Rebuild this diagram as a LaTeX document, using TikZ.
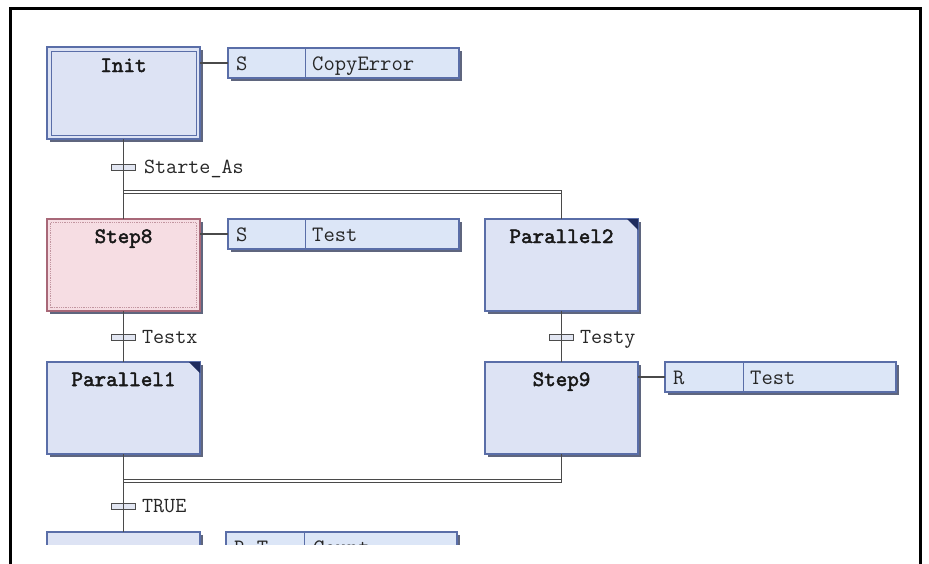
\documentclass[tikz,border=0pt]{standalone}
\usepackage{fontspec}
\newfontfamily\stepmono[FakeBold=2.2]{lmmono10-regular.otf}
\usetikzlibrary{shadows}

\definecolor{stepfill}{HTML}{DDE3F4}
\definecolor{stepline}{HTML}{5A6EA8}
\definecolor{activefill}{HTML}{F6DDE3}
\definecolor{activeline}{HTML}{A86878}
\definecolor{actfill}{HTML}{DCE6F7}
\definecolor{wirecol}{HTML}{4A4A4A}
\definecolor{shade}{HTML}{4E5670}
\definecolor{transfill}{HTML}{E2E6F2}
\definecolor{cornercol}{HTML}{1F2C5E}

\tikzset{
  boxshadow/.style={drop shadow={shadow xshift=2.5pt, shadow yshift=-2.5pt, fill=shade, opacity=0.9}},
  stepbox/.style={draw=stepline, line width=1.4pt, fill=stepfill, minimum width=153pt,
    minimum height=92pt, anchor=north west, inner sep=0pt, outer sep=0pt, boxshadow},
  activebox/.style={stepbox, draw=activeline, fill=activefill},
  actionbox/.style={draw=stepline, line width=1.2pt, fill=actfill, minimum width=231pt,
    minimum height=30pt, anchor=north west, inner sep=0pt, outer sep=0pt, boxshadow},
  stepname/.style={font=\fontsize{22}{24}\selectfont\stepmono,
    anchor=base, inner sep=0pt, text=black!90},
  actiontext/.style={font=\fontsize{22}{24}\selectfont\ttfamily, anchor=base west,
    inner sep=0pt, text=black!85},
  translabel/.style={font=\fontsize{21.5}{24}\selectfont\ttfamily, anchor=base west,
    inner sep=0pt, text=black!85},
  trans/.style={draw=gray!60!black, fill=transfill, line width=0.8pt, minimum width=24pt,
    minimum height=6pt, inner sep=0pt},
  wire/.style={draw=wirecol, line width=1.4pt},
  actwire/.style={draw=wirecol, line width=1.2pt},
  dblbar/.style={draw=wirecol, line width=1.1pt},
  divider/.style={draw=stepline, line width=1pt},
  corner/.style={fill=cornercol},
}

\begin{document}
\begin{tikzpicture}[x=1pt, y=-1pt]
\useasboundingbox (0,0) rectangle (929,563);
\fill[white] (0,0) rectangle (929,563);

% steps
\node[stepbox] (init) at (47,47) {};
\draw[stepline, line width=0.7pt] ([shift={(4pt,-4pt)}]init.north west)
  rectangle ([shift={(-4pt,4pt)}]init.south east);
\node[stepname] at ([yshift=-25pt]init.north) {Init};

\node[activebox] (s8) at (47,219) {};
\draw[activeline!70, densely dotted, line width=0.8pt] ([shift={(3.5pt,-3.5pt)}]s8.north west)
  rectangle ([shift={(-3.5pt,3.5pt)}]s8.south east);
\node[stepname] at ([yshift=-24pt]s8.north) {Step8};

\node[stepbox] (p1) at (47,362) {};
\fill[corner] (p1.north east) -- ++(-11pt,0pt) -- ++(11pt,-11pt) -- cycle;
\node[stepname] at ([yshift=-24pt]p1.north) {Parallel1};

\node[stepbox] (p2) at (485,219) {};
\fill[corner] (p2.north east) -- ++(-11pt,0pt) -- ++(11pt,-11pt) -- cycle;
\node[stepname] at ([yshift=-24pt]p2.north) {Parallel2};

\node[stepbox] (s9) at (485,362) {};
\node[stepname] at ([yshift=-24pt]s9.north) {Step9};

% actions
\node[actionbox] (a1) at (228,48) {};
\draw[divider] ([xshift=77pt]a1.north west) -- ([xshift=77pt]a1.south west);
\node[actiontext] at ([shift={(8pt,-22pt)}]a1.north west) {S};
\node[actiontext] at ([shift={(84pt,-22pt)}]a1.north west) {CopyError};

\node[actionbox] (a2) at (228,219) {};
\draw[divider] ([xshift=77pt]a2.north west) -- ([xshift=77pt]a2.south west);
\node[actiontext] at ([shift={(8pt,-22pt)}]a2.north west) {S};
\node[actiontext] at ([shift={(84pt,-22pt)}]a2.north west) {Test};

\node[actionbox] (a3) at (665,362) {};
\draw[divider] ([xshift=78pt]a3.north west) -- ([xshift=78pt]a3.south west);
\node[actiontext] at ([shift={(8pt,-22pt)}]a3.north west) {R};
\node[actiontext] at ([shift={(85pt,-22pt)}]a3.north west) {Test};

% partly visible step and action at the lower edge
\begin{scope}
  \clip (0,520) rectangle (929,544);
  \node[stepbox] (s10) at (47,532) {};
  \node[actionbox] (a4) at (226,532) {};
  \draw[divider] ([xshift=78pt]a4.north west) -- ([xshift=78pt]a4.south west);
  \node[actiontext] at ([shift={(8pt,-22pt)}]a4.north west) {R\_T};
  \node[actiontext] at ([shift={(87pt,-22pt)}]a4.north west) {Count};
\end{scope}

% transitions
\node[trans] (t1) at (123.5,167) {};
\node[trans] (t2) at (123.5,337) {};
\node[trans] (t3) at (561.5,337) {};
\node[trans] (t4) at (123.5,506) {};
\node[translabel] at ([xshift=8pt, yshift=-6pt]t1.east) {Starte\_As};
\node[translabel] at ([xshift=6pt, yshift=-6pt]t2.east) {Testx};
\node[translabel] at ([xshift=6pt, yshift=-6pt]t3.east) {Testy};
\node[translabel] at ([xshift=6pt, yshift=-6pt]t4.east) {TRUE};

% parallel branch bars
\coordinate (j1l) at (123.5,192);
\coordinate (j1r) at (561.5,192);
\coordinate (j2l) at (123.5,481);
\coordinate (j2r) at (561.5,481);
\draw[dblbar] ([yshift=1.7pt]j1l) rectangle ([yshift=-1.7pt]j1r);
\draw[dblbar] ([yshift=1.7pt]j2l) rectangle ([yshift=-1.7pt]j2r);

% connectors
\draw[wire] (init.south) -- (s8.north);
\draw[wire] (j1r) -- (p2.north);
\draw[wire] (s8.south) -- (p1.north);
\draw[wire] (p2.south) -- (s9.north);
\draw[wire] (p1.south) -- (s10.north);
\draw[wire] (s9.south) -- (j2r);
\draw[actwire] (a1.west -| init.east) -- (a1.west);
\draw[actwire] (a2.west -| s8.east) -- (a2.west);
\draw[actwire] (a3.west -| s9.east) -- (a3.west);

% frame
\draw[line width=3pt, black] (10,570) -- (10,8.5) -- (920.5,8.5) -- (920.5,570);
\end{tikzpicture}
\end{document}
